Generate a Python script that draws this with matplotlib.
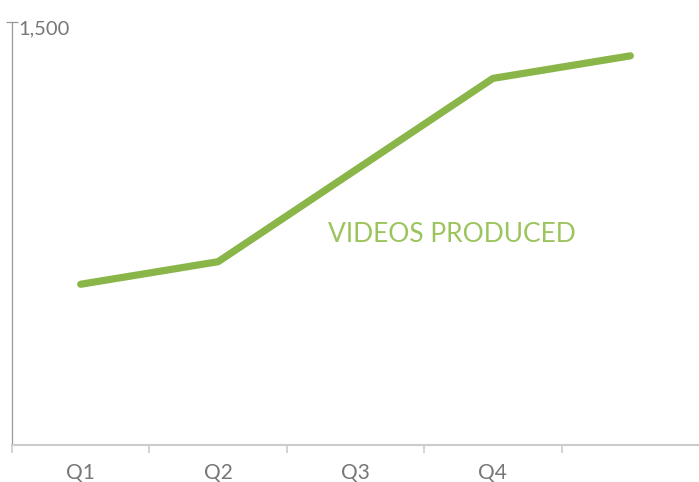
import matplotlib
matplotlib.use("Agg")
import matplotlib.pyplot as plt

categories = ["Q1", "Q2", "Q3", "Q4", ""]
values = [570, 650, 975, 1300, 1380]
y_max = 1500
y_label = "1,500"
series_name = "VIDEOS PRODUCED"

plt.rcParams['font.family'] = ['Lato', 'DejaVu Sans']

fig = plt.figure(figsize=(6.99, 4.82), dpi=100)
ax = fig.add_axes([12/699, 37/482, 687/699, 423/482])

x = list(range(len(categories)))
ax.plot(x, values, color='#8ab548', lw=5.2, solid_capstyle='round', solid_joinstyle='round')

ax.set_xlim(-0.5, len(categories) - 0.5)
ax.set_ylim(0, y_max)

for s in ['top', 'right']:
    ax.spines[s].set_visible(False)
ax.spines['left'].set_color('#999999')
ax.spines['left'].set_linewidth(0.9)
ax.spines['bottom'].set_color('#cccccc')
ax.spines['bottom'].set_linewidth(1.5)

ax.set_xticks([i - 0.5 for i in range(len(categories))])
ax.set_xticklabels([])
ax.tick_params(axis='x', which='major', length=6, color='#cccccc', width=1.2, direction='out')
ax.set_xticks(x, minor=True)
ax.set_xticklabels(categories, minor=True)
ax.tick_params(axis='x', which='minor', length=0, labelsize=15, labelcolor='#777777', pad=13)

ax.set_yticks([y_max])
ax.set_yticklabels([])
ax.tick_params(axis='y', length=9, direction='inout', color='#999999', width=0.9)
ax.text(0.009, y_max + 4, y_label, transform=ax.get_yaxis_transform(), ha='left', va='top',
        fontsize=14.5, color='#777777')

ax.text(2.70, 745, series_name, ha='center', va='center', fontsize=19,
        color='#9cc45c')

fig.savefig("out.png", dpi=100)
